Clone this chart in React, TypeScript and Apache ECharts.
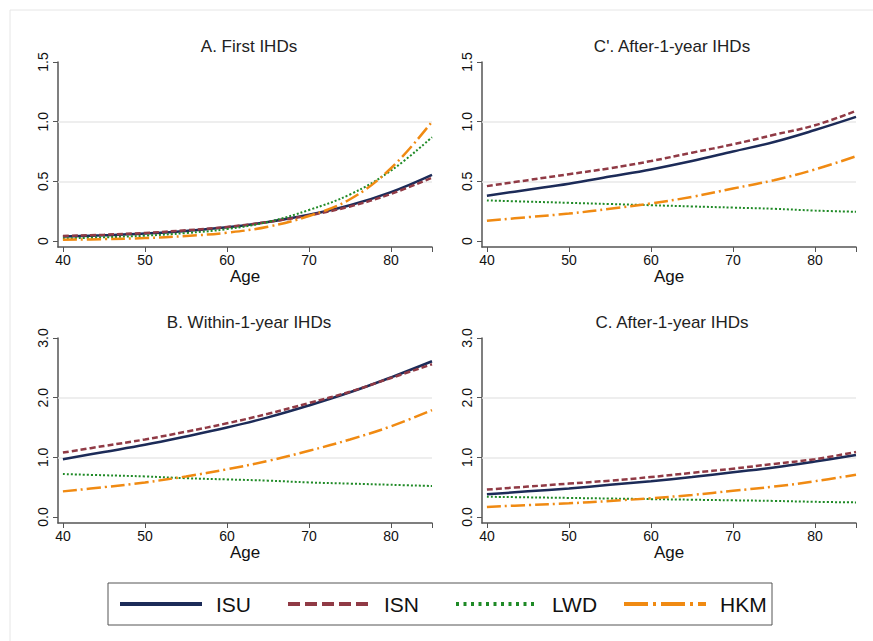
import React, { useEffect, useRef } from 'react';
import * as echarts from 'echarts';

const ages = [40, 45, 50, 55, 60, 65, 70, 75, 80, 85];
const seriesNames = ['ISU', 'ISN', 'LWD', 'HKM'];

// A. First IHDs
const firstISU = [0.037, 0.048, 0.063, 0.085, 0.115, 0.16, 0.22, 0.3, 0.41, 0.555];
const firstISN = [0.042, 0.053, 0.068, 0.09, 0.118, 0.16, 0.215, 0.29, 0.395, 0.53];
const firstLWD = [0.022, 0.031, 0.045, 0.067, 0.1, 0.16, 0.26, 0.39, 0.59, 0.87];
const firstHKM = [0.01, 0.016, 0.025, 0.042, 0.07, 0.12, 0.21, 0.35, 0.61, 1.0];

// B. Within-1-year IHDs
const withinISU = [0.97, 1.09, 1.21, 1.35, 1.5, 1.67, 1.87, 2.09, 2.34, 2.61];
const withinISN = [1.08, 1.19, 1.3, 1.43, 1.57, 1.73, 1.91, 2.1, 2.33, 2.56];
const withinLWD = [0.72, 0.7, 0.68, 0.65, 0.63, 0.61, 0.58, 0.56, 0.54, 0.52];
const withinHKM = [0.43, 0.5, 0.58, 0.68, 0.8, 0.94, 1.11, 1.3, 1.52, 1.79];

// C / C'. After-1-year IHDs
const afterISU = [0.38, 0.43, 0.48, 0.54, 0.6, 0.67, 0.75, 0.83, 0.93, 1.04];
const afterISN = [0.46, 0.51, 0.56, 0.61, 0.67, 0.74, 0.81, 0.89, 0.97, 1.09];
const afterLWD = [0.34, 0.33, 0.32, 0.31, 0.3, 0.29, 0.28, 0.27, 0.255, 0.245];
const afterHKM = [0.17, 0.2, 0.23, 0.27, 0.315, 0.37, 0.44, 0.51, 0.6, 0.71];

const panelTitles = ['A. First IHDs', "C'. After-1-year IHDs", 'B. Within-1-year IHDs', 'C. After-1-year IHDs'];
const xAxisName = 'Age';
const xTickValues = [40, 50, 60, 70, 80];
const xTickMarks = [40, 50, 60, 70, 80, 85];
const yTicksSmall = [0, 0.5, 1.0, 1.5];
const yTickLabelsSmall = ['0', '0.5', '1.0', '1.5'];
const yTicksLarge = [0, 1, 2, 3];
const yTickLabelsLarge = ['0.0', '1.0', '2.0', '3.0'];
const gridValuesSmall = [0.5, 1.0];
const gridValuesLarge = [1.0, 2.0];

const FONT = '"Liberation Sans", Arial, sans-serif';

const colors: Record<string, string> = { ISU: '#1c2b58', ISN: '#903a45', LWD: '#1f8a26', HKM: '#f08a12' };
const dashes: Record<string, any> = { ISU: 'solid', ISN: [6, 3], LWD: [2, 2], HKM: [14, 4, 2, 4] };
const widths: Record<string, number> = { ISU: 2.5, ISN: 2.5, LWD: 2, HKM: 2.5 };
const legendDashes: Record<string, any> = { ISU: 'solid', ISN: [12, 5], LWD: [3, 4.5], HKM: [24, 5, 3, 5] };

const panels = [
  { data: [firstISU, firstISN, firstLWD, firstHKM], ticks: yTicksSmall, labels: yTickLabelsSmall, grid: gridValuesSmall, min: -0.05, max: 1.5, left: 58, top: 62, cx: 244, ty: 33 },
  { data: [afterISU, afterISN, afterLWD, afterHKM], ticks: yTicksSmall, labels: yTickLabelsSmall, grid: gridValuesSmall, min: -0.05, max: 1.5, left: 482, top: 62, cx: 667, ty: 33 },
  { data: [withinISU, withinISN, withinLWD, withinHKM], ticks: yTicksLarge, labels: yTickLabelsLarge, grid: gridValuesLarge, min: -0.1, max: 3, left: 58, top: 338, cx: 244, ty: 309 },
  { data: [afterISU, afterISN, afterLWD, afterHKM], ticks: yTicksLarge, labels: yTickLabelsLarge, grid: gridValuesLarge, min: -0.1, max: 3, left: 482, top: 338, cx: 667, ty: 309 },
];

export default function App() {
  const ref = useRef<HTMLDivElement>(null);
  useEffect(() => {
    if (!ref.current) return;
    const chart = echarts.init(ref.current, undefined, { renderer: 'svg' });
    const axisLineStyle = { color: '#555', width: 1.5 };
    const series: any[] = [];
    panels.forEach((p, i) => {
      seriesNames.forEach((name, k) => {
        const s: any = {
          type: 'line',
          name,
          xAxisIndex: i,
          yAxisIndex: i,
          data: ages.map((a, j) => [a, p.data[k][j]]),
          smooth: 0.4,
          symbol: 'none',
          showSymbol: false,
          z: 3,
          lineStyle: { color: colors[name], width: widths[name], type: dashes[name] },
          itemStyle: { color: colors[name] },
        };
        if (k === 0) {
          s.markLine = {
            silent: true,
            symbol: 'none',
            z: 1,
            label: { show: false },
            lineStyle: { color: '#e8e8e8', width: 1.5, type: 'solid' },
            data: p.grid.map((v) => ({ yAxis: v })),
          };
        }
        series.push(s);
      });
    });
    chart.setOption({
      animation: false,
      backgroundColor: '#fff',
      title: panels.map((p, i) => ({
        text: panelTitles[i],
        left: p.cx,
        top: p.ty,
        textAlign: 'center',
        textStyle: { fontSize: 17, fontWeight: 'normal', color: '#222', fontFamily: FONT },
      })),
      grid: panels.map((p) => ({ left: p.left, top: p.top, width: 374, height: 185 })),
      xAxis: panels.map((p, i) => ({
        type: 'value',
        gridIndex: i,
        min: 39.4,
        max: 85,
        name: xAxisName,
        nameLocation: 'middle',
        nameGap: 21,
        nameTextStyle: { fontSize: 17, color: '#111', fontFamily: FONT },
        axisLine: { show: true, onZero: false, lineStyle: axisLineStyle },
        axisTick: { show: true, customValues: xTickMarks, length: 5, lineStyle: { color: '#555', width: 1 } },
        axisLabel: { customValues: xTickValues, fontSize: 14, color: '#111', margin: 6, fontFamily: FONT },
        splitLine: { show: false },
      })),
      yAxis: panels.map((p, i) => ({
        type: 'value',
        gridIndex: i,
        min: p.min,
        max: p.max,
        axisLine: { show: true, onZero: false, lineStyle: axisLineStyle },
        axisTick: { show: true, customValues: p.ticks, length: 5, lineStyle: { color: '#555', width: 1 } },
        axisLabel: {
          customValues: p.ticks,
          rotate: 90,
          fontSize: 14,
          color: '#111',
          margin: 8,
          fontFamily: FONT,
          formatter: (v: number) => {
            const idx = p.ticks.findIndex((t) => Math.abs(t - v) < 1e-6);
            return idx >= 0 ? p.labels[idx] : '';
          },
        },
        splitLine: { show: false },
      })),
      legend: {
        left: 108,
        top: 583,
        orient: 'horizontal',
        padding: [10, 5, 10, 10],
        itemWidth: 82,
        itemHeight: 14,
        itemGap: 23,
        borderColor: '#555',
        borderWidth: 1,
        selectedMode: false,
        textStyle: { fontSize: 21, color: '#111', fontFamily: FONT, width: 47, padding: [0, 0, 0, 9], lineHeight: 22 },
        data: seriesNames.map((n) => ({
          name: n,
          itemStyle: { opacity: 0 },
          lineStyle: { color: colors[n], width: 4, type: legendDashes[n], opacity: 1 },
        })),
      },
      graphic: [
        {
          type: 'rect',
          shape: { x: 10, y: 10, width: 900, height: 700 },
          style: { fill: 'none', stroke: '#e6e6e6', lineWidth: 1 },
          silent: true,
          z: -1,
        },
      ],
      series,
    });
    return () => chart.dispose();
  }, []);
  return <div ref={ref} style={{ position: 'absolute', left: 0, top: 0, width: 873, height: 641 }} />;
}
